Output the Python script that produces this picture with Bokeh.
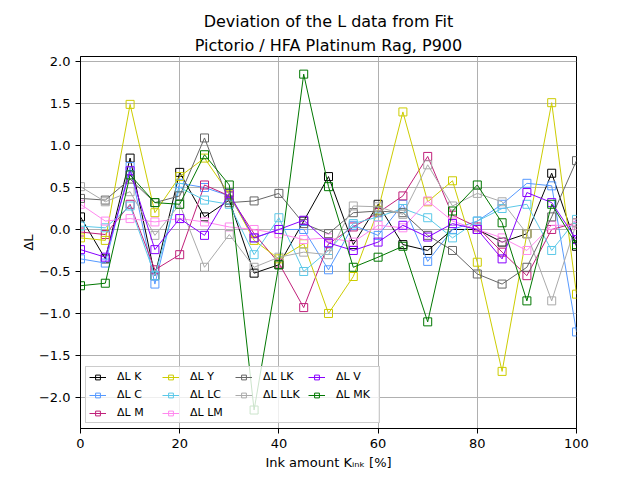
from bokeh.plotting import figure
from bokeh.models import (Legend, LegendItem, FixedTicker, Title, ColumnDataSource)
from bokeh.embed import file_html
from bokeh.resources import INLINE

x = [0, 5, 10, 15, 20, 25, 30, 35, 40, 45, 50, 55, 60, 65, 70, 75, 80, 85, 90, 95, 100]

K = [0.15, -0.35, 0.85, -0.55, 0.68, 0.15, 0.35, -0.52, -0.42, 0.1, 0.63, -0.18, 0.3, -0.18, -0.25, 0.0, 0.0, -0.15, -0.05, 0.67, -0.2]
C = [-0.35, -0.4, 0.75, -0.65, 0.55, 0.5, 0.4, -0.1, 0.0, 0.0, -0.48, 0.05, -0.07, 0.3, -0.38, 0.0, 0.1, 0.3, 0.55, 0.52, -1.22]
M = [-0.03, -0.06, 0.3, -0.48, -0.3, 0.53, 0.4, -0.05, -0.4, -0.93, -0.17, 0.03, 0.2, 0.4, 0.87, 0.17, 0.03, -0.27, -0.55, 0.0, 0.08]
Y = [-0.1, -0.13, 1.49, 0.2, 0.63, 0.85, 0.42, -0.13, -0.35, -0.17, -1.0, -0.56, 0.23, 1.4, 0.33, 0.58, -0.39, -1.69, -0.05, 1.51, -0.77]
LC = [0.04, 0.02, 0.28, -0.55, 0.5, 0.35, 0.3, -0.3, 0.14, -0.5, -0.25, 0.07, 0.15, 0.25, 0.14, -0.1, 0.1, 0.25, 0.3, -0.25, 0.12]
LM = [0.3, 0.1, 0.13, 0.09, 0.13, 0.09, 0.03, 0.0, -0.05, -0.12, -0.1, -0.15, 0.05, 0.02, 0.34, 0.1, 0.0, -0.1, -0.25, 0.05, 0.05]
LK = [0.37, 0.35, 0.6, 0.32, 0.4, 1.09, 0.32, 0.34, 0.43, 0.07, -0.05, 0.2, 0.22, 0.2, -0.07, -0.25, -0.53, -0.65, -0.45, 0.15, 0.82]
LLK = [0.51, 0.33, 0.45, -0.07, 0.3, -0.45, -0.06, -0.45, -0.33, -0.27, -0.3, 0.28, 0.27, 0.18, 0.77, 0.28, 0.43, 0.33, -0.05, -0.85, 0.08]
V = [-0.24, -0.33, 0.7, -0.24, 0.13, -0.07, 0.43, -0.1, 0.0, 0.11, -0.16, -0.25, -0.15, 0.05, -0.09, 0.07, 0.0, -0.35, 0.44, 0.32, -0.12]
MK = [-0.67, -0.64, 0.65, 0.32, 0.3, 0.89, 0.53, -2.15, -0.42, 1.85, 0.51, -0.45, -0.33, -0.2, -1.1, 0.22, 0.53, 0.08, -0.85, 0.3, -0.18]

names = ["K", "C", "M", "Y", "LC", "LM", "LK", "LLK", "V", "MK"]
colors = ["#000000", "#5599ff", "#c0207a", "#cccc00", "#5bc8e8", "#ff88ee", "#666666", "#aaaaaa", "#8800ff", "#007700"]
series = [K, C, M, Y, LC, LM, LK, LLK, V, MK]

x_ticks = [0, 20, 40, 60, 80, 100]
y_ticks = [-2.0, -1.5, -1.0, -0.5, 0.0, 0.5, 1.0, 1.5, 2.0]
y_tick_labels = ["\u22122.0", "\u22121.5", "\u22121.0", "\u22120.5", "0.0", "0.5", "1.0", "1.5", "2.0"]

FONT = "DejaVu Sans"

p = figure(width=632, height=472, output_backend="svg", toolbar_location=None,
           x_range=(0, 100), y_range=(-2.37, 2.06),
           min_border_left=80, min_border_right=56, min_border_top=56, min_border_bottom=44)
p.title.text = "Deviation of the L data from Fit"
p.title.text_font = FONT
p.title.text_font_size = "16px"
p.title.text_font_style = "normal"
p.title.text_color = "black"
p.title.align = "center"
p.title.standoff = 2
p.add_layout(Title(text="Pictorio / HFA Platinum Rag, P900", text_font=FONT, text_font_size="16px",
                   text_font_style="normal", text_color="black", align="center", standoff=4), "above")

p.background_fill_color = "white"
p.outline_line_color = "black"
p.outline_line_width = 1
p.outline_line_alpha = 1

for ax in (p.xaxis[0], p.yaxis[0]):
    ax.major_label_text_font = FONT
    ax.major_label_text_font_size = "13px"
    ax.major_label_text_color = "black"
    ax.axis_label_text_font = FONT
    ax.axis_label_text_font_size = "13px"
    ax.axis_label_text_font_style = "normal"
    ax.axis_label_text_color = "black"
    ax.minor_tick_line_color = None
    ax.major_tick_out = 5
    ax.major_tick_in = 0
    ax.axis_line_color = "black"
    ax.major_tick_line_color = "black"
    ax.major_label_standoff = 5

p.xaxis.axis_label_standoff = 4
p.yaxis.axis_label_standoff = 0
p.xaxis.ticker = FixedTicker(ticks=x_ticks)
p.yaxis.ticker = FixedTicker(ticks=y_ticks)
p.yaxis.major_label_overrides = {t: l for t, l in zip(y_ticks, y_tick_labels)}
p.xaxis.axis_label = "Ink amount K\u1d62\u2099\u2096 [%]"
p.yaxis.axis_label = "\u0394L"

p.grid.grid_line_color = "#b0b0b0"
p.grid.grid_line_width = 1

items = []
for name, col, ys in zip(names, colors, series):
    src = ColumnDataSource(dict(x=x, y=ys))
    l = p.line("x", "y", source=src, line_color=col, line_width=1)
    s = p.scatter("x", "y", source=src, marker="square", size=8, fill_color=None,
                  line_color=col, line_width=1)
    items.append(LegendItem(label="\u0394L " + name, renderers=[l, s]))

# blank placeholder to mimic 3-3-2-2 column layout
dummy = p.line(x=[], y=[], line_alpha=0)
order = items[:8] + [LegendItem(label=" ", renderers=[dummy])] + items[8:]

legend = Legend(items=order, location="bottom_left", orientation="vertical", ncols=4,
                label_text_font=FONT, label_text_font_size="11px", label_text_color="black",
                glyph_width=17, glyph_height=12, label_height=12, label_width=40, label_standoff=11,
                spacing=5, padding=3, margin=5,
                border_line_color="#cccccc", border_line_alpha=1,
                background_fill_alpha=0.8)
p.add_layout(legend, "center")

open("out.html", "w").write(file_html(p, INLINE))
